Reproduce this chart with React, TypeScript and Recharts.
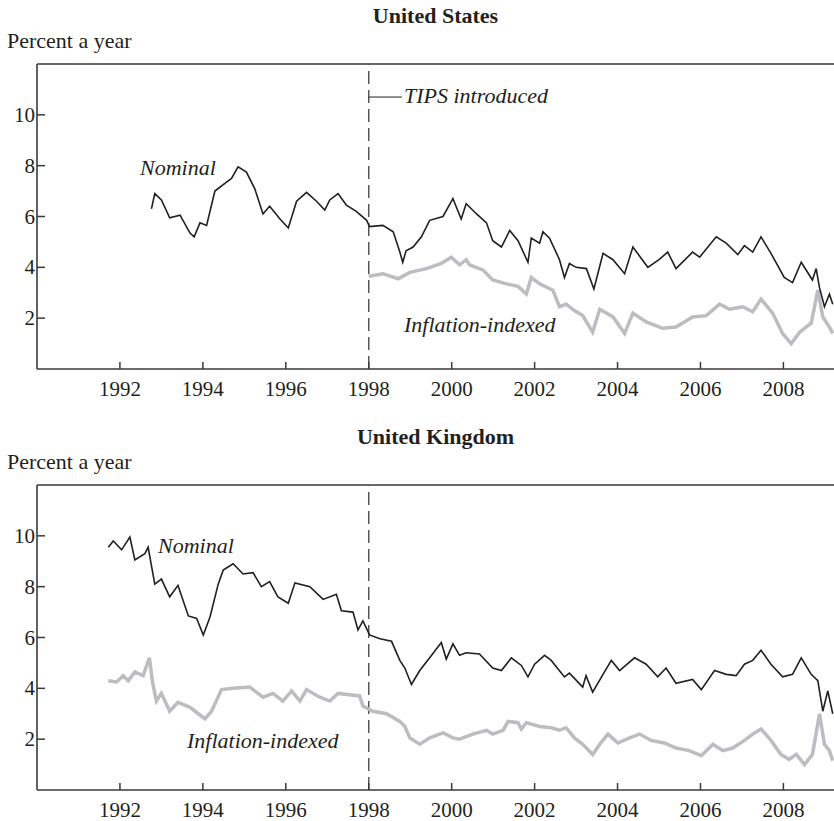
import { LineChart, Line, XAxis, YAxis, ReferenceLine } from 'recharts';

// tick labels
const xTicks = [1992, 1994, 1996, 1998, 2000, 2002, 2004, 2006, 2008];
const yTicks = [2, 4, 6, 8, 10];

// United States, nominal 10-year yield
const usNominalYears = [
  1992.76, 1992.84, 1993.0, 1993.2, 1993.45, 1993.69, 1993.79, 1993.93, 1994.09, 1994.29,
  1994.53, 1994.69, 1994.85, 1995.05, 1995.25, 1995.45, 1995.61, 1995.86, 1996.06, 1996.26,
  1996.5, 1996.74, 1996.94, 1997.06, 1997.26, 1997.46, 1997.7, 1997.95, 1998.02, 1998.34,
  1998.59, 1998.75, 1998.82, 1998.9, 1999.07, 1999.27, 1999.47, 1999.79, 2000.03, 2000.23,
  2000.35, 2000.6, 2000.84, 2000.99, 2001.2, 2001.4, 2001.6, 2001.84, 2001.92, 2002.12,
  2002.2, 2002.36, 2002.6, 2002.72, 2002.84, 2003.0, 2003.25, 2003.43, 2003.65, 2003.89,
  2004.17, 2004.37, 2004.73, 2005.0, 2005.21, 2005.41, 2005.81, 2005.98, 2006.38, 2006.62,
  2006.9, 2007.06, 2007.26, 2007.46, 2007.7, 2008.02, 2008.22, 2008.43, 2008.7, 2008.79,
  2008.87, 2008.99, 2009.11, 2009.19,
];
const usNominalValues = [
  6.3, 6.9, 6.65, 5.95, 6.05, 5.35, 5.2, 5.75, 5.65, 7.0,
  7.3, 7.5, 7.95, 7.75, 7.1, 6.1, 6.4, 5.9, 5.55, 6.6,
  6.95, 6.6, 6.25, 6.65, 6.9, 6.45, 6.2, 5.85, 5.6, 5.65,
  5.4, 4.6, 4.2, 4.65, 4.8, 5.2, 5.85, 6.0, 6.7, 5.9,
  6.5, 6.1, 5.75, 5.05, 4.8, 5.45, 5.05, 4.2, 5.15, 4.95,
  5.4, 5.15, 4.3, 3.6, 4.15, 4.0, 3.95, 3.15, 4.55, 4.3,
  3.75, 4.8, 4.0, 4.3, 4.6, 3.95, 4.6, 4.4, 5.2, 4.95,
  4.5, 4.85, 4.6, 5.2, 4.55, 3.6, 3.4, 4.2, 3.5, 3.95,
  3.2, 2.45, 2.95, 2.55,
];

// United States, inflation-indexed (TIPS)
const usIndexedYears = [
  1998.0, 1998.34, 1998.71, 1998.99, 1999.39, 1999.75, 1999.99, 2000.19, 2000.35, 2000.43,
  2000.75, 2000.99, 2001.32, 2001.6, 2001.8, 2001.92, 2002.12, 2002.44, 2002.6, 2002.76,
  2002.96, 2003.16, 2003.4, 2003.57, 2003.89, 2004.17, 2004.37, 2004.69, 2005.09, 2005.41,
  2005.81, 2006.14, 2006.46, 2006.7, 2007.02, 2007.26, 2007.46, 2007.74, 2007.98, 2008.19,
  2008.39, 2008.67, 2008.83, 2008.95, 2009.11, 2009.19,
];
const usIndexedValues = [
  3.65, 3.75, 3.55, 3.8, 3.95, 4.15, 4.4, 4.1, 4.3, 4.1,
  3.9, 3.5, 3.35, 3.25, 2.95, 3.6, 3.35, 3.1, 2.45, 2.55,
  2.3, 2.1, 1.45, 2.35, 2.05, 1.4, 2.2, 1.85, 1.6, 1.65,
  2.05, 2.1, 2.55, 2.35, 2.45, 2.25, 2.75, 2.2, 1.4, 1.0,
  1.45, 1.8, 3.1, 2.05, 1.65, 1.4,
];

// United Kingdom, nominal
const ukNominalYears = [
  1991.72, 1991.84, 1992.04, 1992.24, 1992.36, 1992.6, 1992.68, 1992.84, 1993.0, 1993.2,
  1993.4, 1993.65, 1993.85, 1994.01, 1994.17, 1994.37, 1994.49, 1994.73, 1994.97, 1995.21,
  1995.41, 1995.61, 1995.81, 1996.06, 1996.22, 1996.58, 1996.9, 1997.22, 1997.34, 1997.62,
  1997.74, 1997.86, 1998.02, 1998.27, 1998.55, 1998.75, 1998.87, 1999.03, 1999.23, 1999.47,
  1999.75, 1999.87, 2000.03, 2000.19, 2000.35, 2000.67, 2000.99, 2001.2, 2001.44, 2001.68,
  2001.84, 2002.0, 2002.24, 2002.4, 2002.72, 2002.84, 2003.16, 2003.24, 2003.4, 2003.65,
  2003.85, 2004.05, 2004.41, 2004.69, 2004.97, 2005.17, 2005.41, 2005.81, 2006.02, 2006.34,
  2006.62, 2006.86, 2007.06, 2007.26, 2007.46, 2007.7, 2007.98, 2008.22, 2008.43, 2008.67,
  2008.83, 2008.95, 2009.07, 2009.19,
];
const ukNominalValues = [
  9.55, 9.8, 9.45, 9.95, 9.05, 9.3, 9.55, 8.1, 8.3, 7.6,
  8.05, 6.85, 6.75, 6.1, 6.8, 8.1, 8.65, 8.9, 8.5, 8.55,
  8.0, 8.2, 7.6, 7.35, 8.15, 8.0, 7.5, 7.7, 7.05, 7.0,
  6.3, 6.65, 6.1, 5.95, 5.85, 5.1, 4.8, 4.15, 4.7, 5.2,
  5.8, 5.15, 5.75, 5.3, 5.4, 5.35, 4.8, 4.7, 5.2, 4.9,
  4.45, 4.95, 5.3, 5.1, 4.45, 4.6, 4.05, 4.5, 3.85, 4.55,
  5.1, 4.7, 5.2, 4.95, 4.45, 4.8, 4.2, 4.35, 3.95, 4.7,
  4.55, 4.5, 4.95, 5.1, 5.5, 4.95, 4.45, 4.55, 5.2, 4.55,
  4.3, 3.1, 3.9, 3.0,
];

// United Kingdom, inflation-indexed
const ukIndexedYears = [
  1991.72, 1991.92, 1992.08, 1992.2, 1992.36, 1992.56, 1992.71, 1992.79, 1992.88, 1993.0,
  1993.2, 1993.4, 1993.69, 1993.89, 1994.05, 1994.21, 1994.45, 1994.73, 1995.13, 1995.45,
  1995.69, 1995.93, 1996.14, 1996.34, 1996.5, 1996.82, 1997.06, 1997.26, 1997.54, 1997.78,
  1997.86, 1998.1, 1998.43, 1998.75, 1998.87, 1998.99, 1999.23, 1999.47, 1999.79, 2000.03,
  2000.19, 2000.51, 2000.84, 2000.99, 2001.24, 2001.36, 2001.6, 2001.68, 2001.8, 2002.12,
  2002.4, 2002.6, 2002.76, 2002.96, 2003.16, 2003.4, 2003.57, 2003.77, 2004.01, 2004.29,
  2004.53, 2004.81, 2005.13, 2005.41, 2005.73, 2006.02, 2006.3, 2006.54, 2006.78, 2007.06,
  2007.26, 2007.46, 2007.7, 2007.94, 2008.14, 2008.31, 2008.51, 2008.7, 2008.87, 2008.99,
  2009.11, 2009.19,
];
const ukIndexedValues = [
  4.3, 4.25, 4.5, 4.3, 4.65, 4.5, 5.2, 4.2, 3.5, 3.8,
  3.1, 3.45, 3.25, 3.0, 2.8, 3.1, 3.95, 4.0, 4.05, 3.65,
  3.8, 3.5, 3.9, 3.5, 3.95, 3.65, 3.5, 3.8, 3.75, 3.7,
  3.3, 3.1, 3.0, 2.7, 2.5, 2.05, 1.8, 2.05, 2.25, 2.05,
  2.0, 2.2, 2.35, 2.2, 2.35, 2.7, 2.65, 2.4, 2.65, 2.5,
  2.45, 2.35, 2.45, 2.05, 1.8, 1.4, 1.8, 2.2, 1.85, 2.05,
  2.2, 1.95, 1.85, 1.65, 1.55, 1.35, 1.8, 1.55, 1.65, 1.95,
  2.2, 2.4, 1.95, 1.4, 1.2, 1.4, 1.0, 1.4, 3.0, 1.8,
  1.55, 1.15,
];

const toPoints = (years: number[], values: number[]) =>
  years.map((year, i) => ({ year, v: values[i] }));

const FONT = '"Liberation Serif", "Times New Roman", serif';
const INK = '#231f20';
const AXIS = '#3a3a3a';
const GREY = '#bcbdc0';

function XTick({ x, y, payload }: any) {
  return (
    <g>
      <line x1={x} x2={x} y1={y} y2={y - 7} stroke={AXIS} strokeWidth={1.5} />
      <text x={x} y={y + 27} textAnchor="middle" fontFamily={FONT} fontSize={21} fill={INK}>
        {payload.value}
      </text>
    </g>
  );
}

function YTick({ x, y, payload }: any) {
  return (
    <g>
      <line x1={x} x2={x + 8} y1={y} y2={y} stroke={AXIS} strokeWidth={1.5} />
      <text x={x - 2} y={y + 7} textAnchor="end" fontFamily={FONT} fontSize={21} fill={INK}>
        {payload.value}
      </text>
    </g>
  );
}

const textBase = {
  position: 'absolute' as const,
  fontFamily: FONT,
  fontSize: 22,
  lineHeight: '22px',
  color: INK,
  whiteSpace: 'nowrap' as const,
};

interface Note {
  text: string;
  left: number;
  top: number;
}

interface PanelProps {
  top: number;
  title: string;
  nominal: { year: number; v: number }[];
  indexed: { year: number; v: number }[];
  notes: Note[];
  tips?: boolean;
}

function Panel({ top, title, nominal, indexed, notes, tips }: PanelProps) {
  return (
    <div style={{ position: 'absolute', left: 0, top, width: 834, height: 410 }}>
      <div style={{ ...textBase, left: 37, width: 797, top: 5, textAlign: 'center', fontWeight: 'bold' }}>
        {title}
      </div>
      <div style={{ ...textBase, left: 7, top: 30 }}>Percent a year</div>
      <LineChart width={834} height={410} margin={{ top: 64, right: 0, bottom: 0, left: 0 }}>
        <XAxis
          type="number"
          dataKey="year"
          domain={[1990, 2009.22]}
          allowDataOverflow
          ticks={xTicks}
          height={41}
          tickSize={0}
          tickMargin={0}
          tick={XTick}
          axisLine={{ stroke: AXIS, strokeWidth: 1.6 }}
        />
        <YAxis
          type="number"
          domain={[0, 12]}
          ticks={yTicks}
          width={37}
          tickSize={0}
          tickMargin={0}
          tick={YTick}
          axisLine={{ stroke: AXIS, strokeWidth: 1.6 }}
        />
        <ReferenceLine y={12} stroke={AXIS} strokeWidth={1.6} />
        <ReferenceLine x={1998} stroke="#555" strokeWidth={1.5} strokeDasharray="13 6" />
        {tips && (
          <ReferenceLine
            segment={[{ x: 1998, y: 10.7 }, { x: 1998.8, y: 10.7 }]}
            stroke={INK}
            strokeWidth={1}
          />
        )}
        <Line
          data={indexed}
          dataKey="v"
          type="linear"
          stroke={GREY}
          strokeWidth={3.5}
          dot={false}
          activeDot={false}
          isAnimationActive={false}
        />
        <Line
          data={nominal}
          dataKey="v"
          type="linear"
          stroke={INK}
          strokeWidth={1.6}
          dot={false}
          activeDot={false}
          isAnimationActive={false}
        />
      </LineChart>
      {notes.map((n) => (
        <div key={n.text} style={{ ...textBase, left: n.left, top: n.top, fontStyle: 'italic' }}>
          {n.text}
        </div>
      ))}
    </div>
  );
}

export default function App() {
  return (
    <div style={{ position: 'absolute', left: 0, top: 0, width: 834, height: 821, background: '#fff', overflow: 'hidden' }}>
      <Panel
        top={0}
        title="United States"
        nominal={toPoints(usNominalYears, usNominalValues)}
        indexed={toPoints(usIndexedYears, usIndexedValues)}
        tips
        notes={[
          { text: 'Nominal', left: 140, top: 157 },
          { text: 'TIPS introduced', left: 404, top: 85 },
          { text: 'Inflation-indexed', left: 404, top: 314 },
        ]}
      />
      <Panel
        top={421}
        title="United Kingdom"
        nominal={toPoints(ukNominalYears, ukNominalValues)}
        indexed={toPoints(ukIndexedYears, ukIndexedValues)}
        notes={[
          { text: 'Nominal', left: 158, top: 114 },
          { text: 'Inflation-indexed', left: 187, top: 309 },
        ]}
      />
    </div>
  );
}
